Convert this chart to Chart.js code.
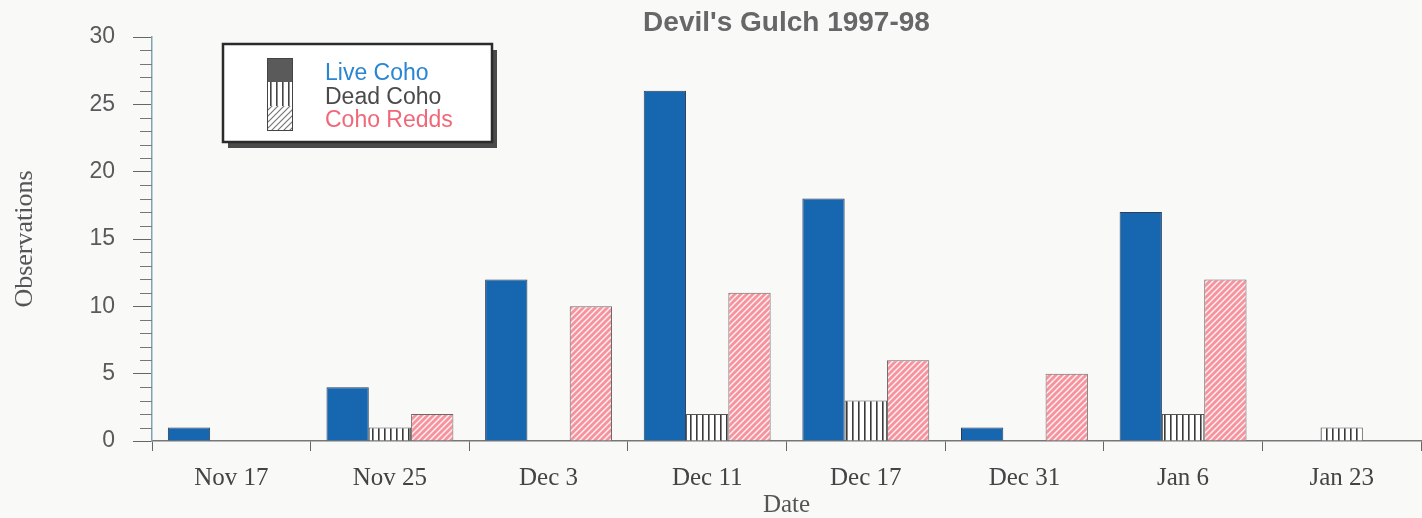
<!DOCTYPE html>
<html>
<head>
<meta charset="utf-8">
<script src="https://cdn.jsdelivr.net/npm/chart.js@4"></script>
<style>
  html, body { margin: 0; padding: 0; background: #f9f9f8; }
  #wrap { width: 1422px; height: 518px; }
</style>
</head>
<body>
<div id="wrap"><canvas id="myChart" width="1422" height="518"></canvas></div>
<script>
(() => {
	'use strict'

	const chartTitle = "Devil's Gulch 1997-98";
	const dates = ['Nov 17', 'Nov 25', 'Dec 3', 'Dec 11', 'Dec 17', 'Dec 31', 'Jan 6', 'Jan 23'];
	const liveCoho = [1, 4, 12, 26, 18, 1, 17, 0];
	const deadCoho = [0, 1, 0, 2, 3, 0, 2, 1];
	const cohoRedds = [0, 2, 10, 11, 6, 5, 12, 0];
	const seriesNames = ['Live Coho', 'Dead Coho', 'Coho Redds'];
	const yTicks = [0, 5, 10, 15, 20, 25, 30];

	const serif = "'Liberation Serif', 'Times New Roman', serif";
	const sans = "'Liberation Sans', Arial, sans-serif";

	function makePattern(size, draw) {
		const c = document.createElement('canvas');
		c.width = size;
		c.height = size;
		const g = c.getContext('2d');
		draw(g, size);
		return g.createPattern(c, 'repeat');
	}

	function vStripes(bg, fg) {
		return makePattern(6, (g, s) => {
			g.fillStyle = bg;
			g.fillRect(0, 0, s, s);
			g.fillStyle = fg;
			g.fillRect(0, 0, 1.6, s);
		});
	}

	function hatch(bg, fg, lw) {
		return makePattern(6, (g, s) => {
			g.fillStyle = bg;
			g.fillRect(0, 0, s, s);
			g.strokeStyle = fg;
			g.lineWidth = lw;
			g.beginPath();
			g.moveTo(-1, s + 1); g.lineTo(s + 1, -1);
			g.moveTo(-s / 2 - 1, s / 2 + 1); g.lineTo(s / 2 + 1, -s / 2 - 1);
			g.moveTo(s / 2 - 1, s * 1.5 + 1); g.lineTo(s * 1.5 + 1, s / 2 - 1);
			g.stroke();
		});
	}

	const liveFill = '#1766b0';
	const deadFill = vStripes('#ffffff', '#3a3a3a');
	const reddFill = hatch('#f5939e', '#fff2f3', 1.4);

	// legend: one stacked swatch column, coloured labels, box with shadow
	const legendBox = {
		id: 'legendBox',
		afterDraw(chart) {
			const c = chart.ctx;
			const x = 223, y = 44, w = 269, h = 98;
			c.save();
			c.fillStyle = '#4a4a4a';
			c.fillRect(x + 5, y + 6, w, h);
			c.fillStyle = '#ffffff';
			c.fillRect(x, y, w, h);
			c.strokeStyle = '#2b2b2b';
			c.lineWidth = 2.5;
			c.strokeRect(x, y, w, h);

			const sw = [
				'#5a5a5a',
				vStripes('#ffffff', '#444444'),
				hatch('#ffffff', '#777777', 1.2)
			];
			const sx = 267, sy = 58, sh = 24;
			sw.forEach((f, i) => {
				c.fillStyle = f;
				c.fillRect(sx, sy + i * sh, 25, sh);
			});
			c.strokeStyle = '#444';
			c.lineWidth = 1;
			c.strokeRect(sx + 0.5, sy + 0.5, 25, sh * 3);

			const colors = ['#2a85d2', '#4a4a4a', '#f06878'];
			c.font = '23px ' + sans;
			c.textBaseline = 'alphabetic';
			chart.data.datasets.forEach((ds, i) => {
				c.fillStyle = colors[i];
				c.fillText(ds.label, 325, 80 + i * 23.5);
			});
			c.restore();
		}
	};

	// minor ticks on the y axis, one per unit
	const minorTicks = {
		id: 'minorTicks',
		afterDraw(chart) {
			const s = chart.scales.y;
			const c = chart.ctx;
			c.save();
			c.strokeStyle = '#777';
			c.lineWidth = 1;
			c.beginPath();
			for (let v = s.min; v <= s.max; v++) {
				if (v % 5 === 0) continue;
				const py = Math.round(s.getPixelForValue(v)) + 0.5;
				c.moveTo(s.right - 12, py);
				c.lineTo(s.right, py);
			}
			c.stroke();
			c.restore();
		}
	};

	const paperBg = {
		id: 'paperBg',
		beforeDraw(chart) {
			const c = chart.ctx;
			c.save();
			c.fillStyle = '#f9f9f8';
			c.fillRect(0, 0, chart.width, chart.height);
			c.restore();
		}
	};

	const ctx = document.getElementById('myChart');

	new Chart(ctx, {
		type: 'bar',
		data: {
			labels: dates,
			datasets: [{
				label: seriesNames[0],
				data: liveCoho,
				backgroundColor: liveFill,
				borderColor: '#2d3e55',
				borderWidth: 1
			}, {
				label: seriesNames[1],
				data: deadCoho,
				backgroundColor: deadFill,
				borderColor: '#555',
				borderWidth: 1
			}, {
				label: seriesNames[2],
				data: cohoRedds,
				backgroundColor: reddFill,
				borderColor: '#6a6a6a',
				borderWidth: 1
			}]
		},
		plugins: [paperBg, minorTicks, legendBox],
		options: {
			responsive: false,
			animation: false,
			layout: {
				padding: { left: 0, right: 1, top: 0, bottom: 0 }
			},
			datasets: {
				bar: {
					categoryPercentage: 0.8,
					barPercentage: 1.0
				}
			},
			plugins: {
				legend: { display: false },
				tooltip: { enabled: false },
				title: {
					display: true,
					text: chartTitle,
					fullSize: false,
					color: '#676767',
					font: { family: sans, size: 28, weight: 'bold', lineHeight: 1.0 },
					padding: { top: 9, bottom: 0 }
				}
			},
			scales: {
				x: {
					grid: {
						display: true,
						offset: true,
						drawOnChartArea: false,
						drawTicks: true,
						tickLength: 10,
						tickColor: '#666'
					},
					border: { display: true, color: '#777', width: 1.5 },
					ticks: {
						color: '#444',
						font: { family: serif, size: 25 },
						padding: 12,
						maxRotation: 0
					},
					title: {
						display: true,
						text: 'Date',
						color: '#555',
						font: { family: serif, size: 25, lineHeight: 1.0 },
						padding: { top: 0, bottom: 0 }
					},
					afterFit(scale) { scale.height = 77; }
				},
				y: {
					min: 0,
					max: 30,
					afterBuildTicks(scale) {
						scale.ticks = yTicks.map(v => ({ value: v }));
					},
					grid: {
						display: true,
						drawOnChartArea: false,
						drawTicks: true,
						tickLength: 19,
						tickColor: '#666'
					},
					border: { display: true, color: '#7fa3b5', width: 1.5 },
					ticks: {
						color: '#5a5a5a',
						font: { family: sans, size: 23 },
						padding: 18
					},
					title: {
						display: true,
						text: 'Observations',
						color: '#555',
						font: { family: serif, size: 26 },
						padding: { top: 10, bottom: 0 }
					},
					afterFit(scale) { scale.width = 152; }
				}
			}
		}
	});
})()
</script>
</body>
</html>
